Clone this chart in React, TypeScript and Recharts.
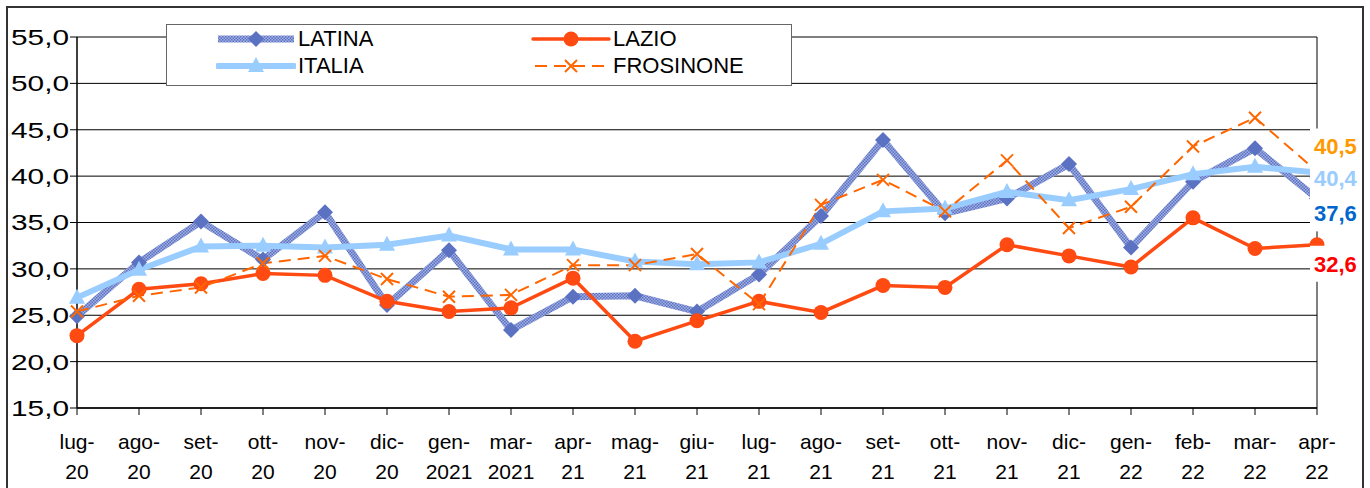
import React from 'react';
import { LineChart, Line, XAxis, YAxis, CartesianGrid, Legend, ReferenceLine, LabelList } from 'recharts';

// mesi sull'asse x
const months = [
  'lug-20', 'ago-20', 'set-20', 'ott-20', 'nov-20', 'dic-20', 'gen-2021', 'mar-2021', 'apr-21', 'mag-21',
  'giu-21', 'lug-21', 'ago-21', 'set-21', 'ott-21', 'nov-21', 'dic-21', 'gen-22', 'feb-22', 'mar-22', 'apr-22',
];

const latina = [24.9, 30.7, 35.1, 31.0, 36.1, 26.1, 32.0, 23.4, 27.0, 27.1, 25.4, 29.4, 35.7, 43.9, 36.0, 37.6, 41.3, 32.3, 39.4, 43.0, 37.6];
const italia = [26.9, 29.9, 32.4, 32.5, 32.3, 32.6, 33.6, 32.1, 32.1, 30.8, 30.5, 30.7, 32.7, 36.2, 36.5, 38.3, 37.4, 38.6, 40.2, 41.0, 40.4];
const lazio = [22.8, 27.8, 28.4, 29.5, 29.3, 26.5, 25.4, 25.8, 29.0, 22.2, 24.4, 26.5, 25.3, 28.2, 28.0, 32.6, 31.4, 30.2, 35.5, 32.2, 32.6];
const frosinone = [25.4, 27.1, 28.0, 30.6, 31.4, 28.9, 27.0, 27.2, 30.4, 30.4, 31.6, 26.2, 36.9, 39.6, 36.2, 41.7, 34.4, 36.7, 43.2, 46.3, 40.5];

const yTicks = [15, 20, 25, 30, 35, 40, 45, 50, 55];

const data = months.map((m, i) => ({
  month: m,
  latina: latina[i],
  italia: italia[i],
  lazio: lazio[i],
  frosinone: frosinone[i],
}));

const FONT = '"Liberation Sans", Arial, sans-serif';
const fmt = (v: number) => v.toFixed(1).replace('.', ',');

// marker
const Diamond = ({ cx, cy }: any) => (
  <path d={`M${cx},${cy - 8} L${cx + 8},${cy} L${cx},${cy + 8} L${cx - 8},${cy} Z`} fill="#5B72C2" />
);
const Triangle = ({ cx, cy }: any) => (
  <path d={`M${cx},${cy - 9} L${cx + 8},${cy + 6} L${cx - 8},${cy + 6} Z`} fill="#99CCFF" />
);
const Circle = ({ cx, cy }: any) => <circle cx={cx} cy={cy} r={7.5} fill="#FF4A12" />;
const Cross = ({ cx, cy }: any) => (
  <path d={`M${cx - 6},${cy - 6} L${cx + 6},${cy + 6} M${cx + 6},${cy - 6} L${cx - 6},${cy + 6}`} stroke="#FF6600" strokeWidth={2} fill="none" />
);

const series = [
  { key: 'latina', name: 'LATINA' },
  { key: 'lazio', name: 'LAZIO' },
  { key: 'italia', name: 'ITALIA' },
  { key: 'frosinone', name: 'FROSINONE' },
];

const LegendIcon = ({ k }: { k: string }) => {
  const common = { position: 'absolute' as const, left: 0, top: 0 };
  return (
    <svg width={80} height={24} style={common}>
      {k === 'latina' && <line x1={2} y1={12} x2={78} y2={12} stroke="url(#latinaHatch)" strokeWidth={7} />}
      {k === 'latina' && <Diamond cx={40} cy={12} />}
      {k === 'italia' && <line x1={2} y1={12} x2={78} y2={12} stroke="#99CCFF" strokeWidth={6} strokeLinecap="round" />}
      {k === 'italia' && <Triangle cx={40} cy={12} />}
      {k === 'lazio' && <line x1={2} y1={12} x2={78} y2={12} stroke="#FF4A12" strokeWidth={3.5} strokeLinecap="round" />}
      {k === 'lazio' && <Circle cx={40} cy={12} />}
      {k === 'frosinone' && <line x1={4} y1={12} x2={76} y2={12} stroke="#FF6600" strokeWidth={2} strokeDasharray="12 7" />}
      {k === 'frosinone' && <Cross cx={40} cy={12} />}
    </svg>
  );
};

const renderLegend = () => (
  <div style={{ width: 624, height: 60, border: '1px solid #666', background: '#fff', position: 'relative', fontFamily: FONT, fontSize: 22 }}>
    {series.map((s, i) => {
      const col = i % 2;
      const row = Math.floor(i / 2);
      return (
        <div key={s.key} style={{ position: 'absolute', left: col === 0 ? 49 : 364, top: row === 0 ? 2 : 29, height: 24 }}>
          <div style={{ position: 'relative', width: 80, height: 24, display: 'inline-block' }}>
            <LegendIcon k={s.key} />
          </div>
          <span style={{ position: 'absolute', left: 82, top: 0, lineHeight: '24px', whiteSpace: 'nowrap', color: '#000' }}>{s.name}</span>
        </div>
      );
    })}
  </div>
);

const YTick = ({ x, y, payload }: any) => (
  <text x={x + 1} y={y} dy="0.36em" textAnchor="end" fontFamily={FONT} fontSize={22} fill="#000" textLength={58} lengthAdjust="spacingAndGlyphs">
    {fmt(payload.value)}
  </text>
);

const XTick = ({ x, y, payload }: any) => {
  const parts = String(payload.value).split('-');
  return (
    <text x={x} textAnchor="middle" fontFamily={FONT} fontSize={21} fill="#000">
      <tspan x={x} y={y + 32}>{parts[0] + '-'}</tspan>
      <tspan x={x} y={y + 62}>{parts[1]}</tspan>
    </text>
  );
};

// etichette finali con sfondo bianco
const endLabel = (color: string, dy: number) => (props: any) => {
  const { x, y, value, index } = props;
  if (index !== months.length - 1) return null;
  const cy = y + dy;
  return (
    <g>
      <rect x={x - 7} y={cy - 18} width={50} height={36} fill="#fff" />
      <text x={x - 3} y={cy} dy="0.36em" fontFamily={FONT} fontSize={22} fontWeight="bold" fill={color}>
        {fmt(value)}
      </text>
    </g>
  );
};

export default function App() {
  return (
    <div style={{ position: 'absolute', left: 0, top: 0, width: 1370, height: 488, background: '#fff' }}>
      <div style={{ position: 'absolute', left: 6, top: 6, width: 1354, height: 490, border: '2px solid #333' }} />
      <div style={{ position: 'absolute', left: 0, top: 0 }}>
        <LineChart width={1370} height={488} data={data} margin={{ top: 37, right: 53, left: 7, bottom: 0 }}>
          <defs>
            <pattern id="latinaHatch" width={3} height={3} patternUnits="userSpaceOnUse">
              <rect width={3} height={3} fill="#A3B1E2" />
              <rect width={1.5} height={1.5} fill="#5B72C2" />
              <rect x={1.5} y={1.5} width={1.5} height={1.5} fill="#5B72C2" />
            </pattern>
          </defs>
          <CartesianGrid vertical={false} stroke="#000" strokeWidth={1} />
          <XAxis
            dataKey="month"
            height={80}
            interval={0}
            tickSize={7}
            tick={<XTick />}
            axisLine={{ stroke: '#000', strokeWidth: 1.5 }}
            tickLine={{ stroke: '#000' }}
          />
          <YAxis
            width={70}
            domain={[15, 55]}
            ticks={yTicks}
            tickSize={7}
            tick={<YTick />}
            axisLine={{ stroke: '#000', strokeWidth: 1.5 }}
            tickLine={{ stroke: '#000' }}
          />
          <ReferenceLine x="apr-22" stroke="#000" strokeWidth={1} />
          <Legend
            layout="horizontal"
            verticalAlign="middle"
            align="center"
            content={renderLegend}
            wrapperStyle={{ left: 166, top: 24, width: 626, height: 62 }}
          />
          <Line dataKey="latina" name="LATINA" stroke="url(#latinaHatch)" strokeWidth={7} dot={<Diamond />} activeDot={false} isAnimationActive={false} />
          <Line dataKey="italia" name="ITALIA" stroke="#99CCFF" strokeWidth={6} dot={<Triangle />} activeDot={false} isAnimationActive={false} />
          <Line dataKey="lazio" name="LAZIO" stroke="#FF4A12" strokeWidth={3.5} dot={<Circle />} activeDot={false} isAnimationActive={false} />
          <Line dataKey="frosinone" name="FROSINONE" stroke="#FF6600" strokeWidth={2} strokeDasharray="12 7" dot={<Cross />} activeDot={false} isAnimationActive={false} />
          {/* livello etichette sopra le linee */}
          <Line dataKey="frosinone" legendType="none" stroke="none" dot={false} activeDot={false} isAnimationActive={false}>
            <LabelList dataKey="frosinone" content={endLabel('#FF9900', -25)} />
          </Line>
          <Line dataKey="italia" legendType="none" stroke="none" dot={false} activeDot={false} isAnimationActive={false}>
            <LabelList dataKey="italia" content={endLabel('#99CCFF', 6)} />
          </Line>
          <Line dataKey="latina" legendType="none" stroke="none" dot={false} activeDot={false} isAnimationActive={false}>
            <LabelList dataKey="latina" content={endLabel('#0066CC', 15)} />
          </Line>
          <Line dataKey="lazio" legendType="none" stroke="none" dot={false} activeDot={false} isAnimationActive={false}>
            <LabelList dataKey="lazio" content={endLabel('#FF0000', 19)} />
          </Line>
        </LineChart>
      </div>
    </div>
  );
}
